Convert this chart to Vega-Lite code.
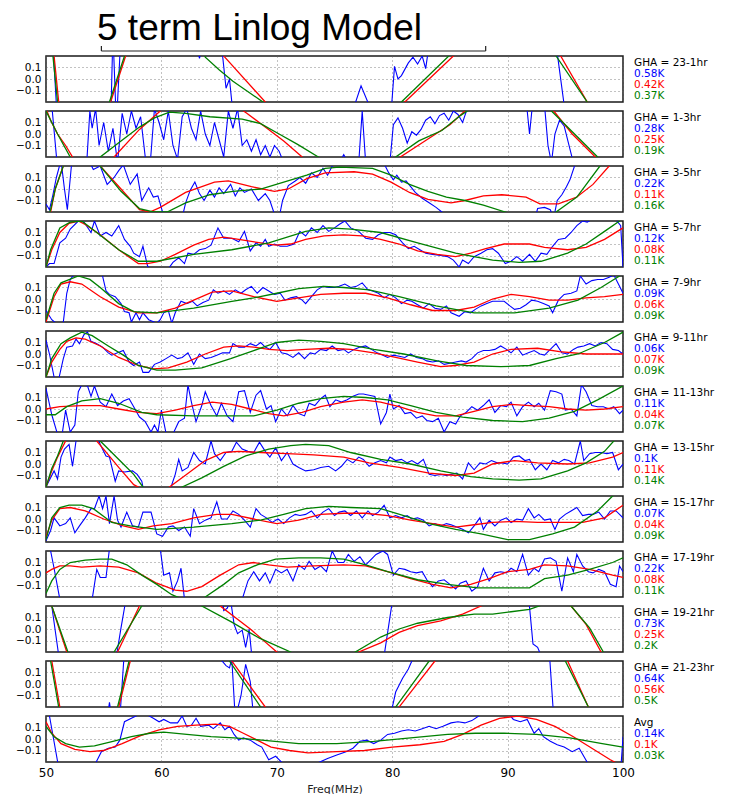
{
"$schema": "https://vega.github.io/schema/vega-lite/v6.json",
"padding": {"left": 15, "top": 9, "right": 0, "bottom": 0},
"background": "white",
"title": {"text": "5 term Linlog Model", "font": "Liberation Sans", "fontSize": 37, "fontWeight": "normal", "color": "black", "anchor": "start", "frame": "group", "dx": 51, "offset": -3},
"config": {"font": "DejaVu Sans", "view": {"stroke": "#1a1a1a", "strokeWidth": 1.5}},
"data": {"values": [
{"p":1,"x":50,"b":0.5},{"p":1,"x":50.6,"b":0.3},{"p":1,"x":51.0,"b":-0.4},{"p":1,"x":55.6,"b":-0.4},{"p":1,"x":55.8,"b":0.4},{"p":1,"x":56.1,"b":-0.4},{"p":1,"x":56.5,"b":0.4},{"p":1,"x":57,"b":0.5},{"p":1,"x":63.0,"b":0.3},{"p":1,"x":63.3,"b":0.18},{"p":1,"x":63.6,"b":0.3},{"p":1,"x":65.2,"b":0.3},{"p":1,"x":65.6,"b":-0.08},{"p":1,"x":65.9,"b":0.0},{"p":1,"x":66.2,"b":-0.3},{"p":1,"x":76.5,"b":-0.3},{"p":1,"x":77.3,"b":-0.06},{"p":1,"x":78.3,"b":-0.3},{"p":1,"x":79.9,"b":-0.3},{"p":1,"x":80.2,"b":0.11},{"p":1,"x":80.5,"b":0.0},{"p":1,"x":80.8,"b":0.03},{"p":1,"x":81.4,"b":0.14},{"p":1,"x":81.8,"b":0.19},{"p":1,"x":82.2,"b":0.13},{"p":1,"x":82.6,"b":0.2},{"p":1,"x":82.9,"b":0.09},{"p":1,"x":83.2,"b":0.3},{"p":1,"x":94.2,"b":0.3},{"p":1,"x":95.0,"b":-0.3},{"p":1,"x":100,"b":-0.3},
{"p":1,"x":50,"r":0.5},{"p":1,"x":50.7,"r":0.2},{"p":1,"x":51.1,"r":-0.2},{"p":1,"x":52,"r":-0.6},{"p":1,"x":55,"r":-0.5},{"p":1,"x":55.6,"r":-0.2},{"p":1,"x":56.9,"r":0.2},{"p":1,"x":58,"r":0.5},{"p":1,"x":61,"r":0.8},{"p":1,"x":64,"r":0.5},{"p":1,"x":65.4,"r":0.2},{"p":1,"x":69,"r":-0.2},{"p":1,"x":72,"r":-0.6},{"p":1,"x":76,"r":-0.7},{"p":1,"x":79,"r":-0.5},{"p":1,"x":81.1,"r":-0.2},{"p":1,"x":85.3,"r":0.2},{"p":1,"x":88,"r":0.45},{"p":1,"x":91,"r":0.5},{"p":1,"x":93,"r":0.4},{"p":1,"x":94.6,"r":0.2},{"p":1,"x":96.9,"r":-0.2},{"p":1,"x":98.5,"r":-0.5},{"p":1,"x":100,"r":-0.8},
{"p":1,"x":50,"g":0.4},{"p":1,"x":50.6,"g":0.2},{"p":1,"x":51.0,"g":-0.2},{"p":1,"x":52,"g":-0.5},{"p":1,"x":55,"g":-0.4},{"p":1,"x":55.5,"g":-0.2},{"p":1,"x":56.8,"g":0.2},{"p":1,"x":58,"g":0.45},{"p":1,"x":61,"g":0.6},{"p":1,"x":63,"g":0.4},{"p":1,"x":63.8,"g":0.19},{"p":1,"x":65,"g":0.08},{"p":1,"x":66.2,"g":-0.02},{"p":1,"x":68.8,"g":-0.2},{"p":1,"x":72,"g":-0.5},{"p":1,"x":76,"g":-0.6},{"p":1,"x":79,"g":-0.45},{"p":1,"x":80.8,"g":-0.2},{"p":1,"x":84.9,"g":0.2},{"p":1,"x":88,"g":0.4},{"p":1,"x":91,"g":0.45},{"p":1,"x":93,"g":0.35},{"p":1,"x":94.2,"g":0.2},{"p":1,"x":96.9,"g":-0.2},{"p":1,"x":98.5,"g":-0.45},{"p":1,"x":100,"g":-0.7},
{"p":2,"x":50,"b":0.3},{"p":2,"x":50.5,"b":0.25},{"p":2,"x":51,"b":-0.3},{"p":2,"x":53.5,"b":-0.3},{"p":2,"x":53.8,"b":0.2},{"p":2,"x":54.0,"b":0.05},{"p":2,"x":54.3,"b":0.22},{"p":2,"x":54.6,"b":-0.1},{"p":2,"x":55.0,"b":0.1},{"p":2,"x":55.4,"b":-0.15},{"p":2,"x":55.8,"b":0.05},{"p":2,"x":56.2,"b":-0.25},{"p":2,"x":56.6,"b":0.18},{"p":2,"x":57.0,"b":0.0},{"p":2,"x":57.4,"b":0.2},{"p":2,"x":57.8,"b":0.05},{"p":2,"x":58.2,"b":0.15},{"p":2,"x":58.6,"b":-0.2},{"p":2,"x":59.0,"b":-0.3},{"p":2,"x":59.4,"b":0.22},{"p":2,"x":59.8,"b":0.1},{"p":2,"x":60.2,"b":-0.05},{"p":2,"x":60.6,"b":0.2},{"p":2,"x":61.0,"b":-0.1},{"p":2,"x":61.4,"b":-0.22},{"p":2,"x":61.8,"b":0.15},{"p":2,"x":62.2,"b":0.22},{"p":2,"x":62.6,"b":0.05},{"p":2,"x":63.0,"b":-0.05},{"p":2,"x":63.4,"b":0.2},{"p":2,"x":63.8,"b":0.0},{"p":2,"x":64.2,"b":-0.1},{"p":2,"x":64.6,"b":0.1},{"p":2,"x":65.0,"b":-0.05},{"p":2,"x":65.4,"b":-0.2},{"p":2,"x":65.8,"b":0.2},{"p":2,"x":66.2,"b":0.05},{"p":2,"x":66.6,"b":0.22},{"p":2,"x":67.0,"b":-0.1},{"p":2,"x":67.4,"b":-0.05},{"p":2,"x":67.8,"b":-0.15},{"p":2,"x":68.2,"b":-0.05},{"p":2,"x":68.6,"b":-0.18},{"p":2,"x":69.0,"b":-0.1},{"p":2,"x":69.4,"b":-0.2},{"p":2,"x":69.8,"b":-0.1},{"p":2,"x":70.2,"b":-0.15},{"p":2,"x":70.6,"b":-0.25},{"p":2,"x":75.4,"b":-0.25},{"p":2,"x":75.8,"b":-0.18},{"p":2,"x":76.2,"b":-0.25},{"p":2,"x":77.1,"b":-0.25},{"p":2,"x":77.4,"b":0.2},{"p":2,"x":77.7,"b":-0.25},{"p":2,"x":79.8,"b":-0.25},{"p":2,"x":80.1,"b":0.08},{"p":2,"x":80.5,"b":0.14},{"p":2,"x":80.9,"b":0.05},{"p":2,"x":81.3,"b":-0.08},{"p":2,"x":81.7,"b":0.02},{"p":2,"x":82.1,"b":-0.01},{"p":2,"x":82.5,"b":0.04},{"p":2,"x":82.9,"b":0.12},{"p":2,"x":83.3,"b":0.15},{"p":2,"x":83.7,"b":0.09},{"p":2,"x":84.1,"b":0.16},{"p":2,"x":84.5,"b":0.18},{"p":2,"x":84.9,"b":0.12},{"p":2,"x":85.3,"b":0.2},{"p":2,"x":85.7,"b":0.17},{"p":2,"x":86.1,"b":0.1},{"p":2,"x":86.5,"b":0.22},{"p":2,"x":87,"b":0.3},{"p":2,"x":91.6,"b":0.3},{"p":2,"x":91.9,"b":0.0},{"p":2,"x":92.2,"b":0.3},{"p":2,"x":93.2,"b":0.25},{"p":2,"x":93.5,"b":-0.1},{"p":2,"x":93.8,"b":-0.25},{"p":2,"x":94.1,"b":0.0},{"p":2,"x":94.5,"b":0.12},{"p":2,"x":94.9,"b":0.07},{"p":2,"x":95.3,"b":-0.09},{"p":2,"x":95.7,"b":-0.25},{"p":2,"x":100,"b":-0.3},
{"p":2,"x":50,"r":0.22},{"p":2,"x":50.4,"r":0.12},{"p":2,"x":51.0,"r":0.0},{"p":2,"x":51.7,"r":-0.1},{"p":2,"x":52.3,"r":-0.2},{"p":2,"x":53.5,"r":-0.4},{"p":2,"x":54.5,"r":-0.35},{"p":2,"x":55.9,"r":-0.2},{"p":2,"x":58.1,"r":0.04},{"p":2,"x":59.9,"r":0.2},{"p":2,"x":62,"r":0.32},{"p":2,"x":64,"r":0.34},{"p":2,"x":66,"r":0.28},{"p":2,"x":67.4,"r":0.18},{"p":2,"x":69,"r":0.06},{"p":2,"x":70.6,"r":-0.06},{"p":2,"x":72.2,"r":-0.2},{"p":2,"x":75,"r":-0.4},{"p":2,"x":78,"r":-0.4},{"p":2,"x":80.7,"r":-0.2},{"p":2,"x":83,"r":-0.05},{"p":2,"x":85,"r":0.08},{"p":2,"x":86.3,"r":0.2},{"p":2,"x":89,"r":0.4},{"p":2,"x":91.5,"r":0.35},{"p":2,"x":94,"r":0.2},{"p":2,"x":95.6,"r":0.0},{"p":2,"x":97.6,"r":-0.2},{"p":2,"x":100,"r":-0.5},
{"p":2,"x":50,"g":0.2},{"p":2,"x":51.0,"g":0.0},{"p":2,"x":52.1,"g":-0.2},{"p":2,"x":53.5,"g":-0.35},{"p":2,"x":54.7,"g":-0.2},{"p":2,"x":56.5,"g":-0.06},{"p":2,"x":58.1,"g":0.06},{"p":2,"x":59.4,"g":0.14},{"p":2,"x":60.7,"g":0.19},{"p":2,"x":62.1,"g":0.18},{"p":2,"x":64.2,"g":0.15},{"p":2,"x":67,"g":0.13},{"p":2,"x":68.6,"g":0.09},{"p":2,"x":70.2,"g":0.0},{"p":2,"x":71.8,"g":-0.09},{"p":2,"x":73.6,"g":-0.2},{"p":2,"x":76,"g":-0.35},{"p":2,"x":78.5,"g":-0.35},{"p":2,"x":80.3,"g":-0.2},{"p":2,"x":82.3,"g":-0.06},{"p":2,"x":84.3,"g":0.03},{"p":2,"x":85.9,"g":0.16},{"p":2,"x":86.5,"g":0.2},{"p":2,"x":89,"g":0.35},{"p":2,"x":91.5,"g":0.32},{"p":2,"x":93.8,"g":0.2},{"p":2,"x":95.8,"g":0.0},{"p":2,"x":97.8,"g":-0.2},{"p":2,"x":100,"g":-0.45},
{"p":3,"x":50,"b":-0.13},{"p":3,"x":50.3,"b":-0.18},{"p":3,"x":50.6,"b":-0.05},{"p":3,"x":50.9,"b":0.1},{"p":3,"x":51.3,"b":0.25},{"p":3,"x":51.6,"b":0.0},{"p":3,"x":51.85,"b":-0.18},{"p":3,"x":52.2,"b":0.2},{"p":3,"x":52.5,"b":0.25},{"p":3,"x":53.7,"b":0.25},{"p":3,"x":54.1,"b":0.17},{"p":3,"x":54.7,"b":0.2},{"p":3,"x":55.3,"b":0.04},{"p":3,"x":55.9,"b":0.1},{"p":3,"x":56.3,"b":0.16},{"p":3,"x":56.7,"b":0.21},{"p":3,"x":57.3,"b":0.04},{"p":3,"x":57.9,"b":0.13},{"p":3,"x":58.3,"b":-0.1},{"p":3,"x":58.9,"b":0.01},{"p":3,"x":59.3,"b":-0.07},{"p":3,"x":59.7,"b":-0.06},{"p":3,"x":60.1,"b":-0.2},{"p":3,"x":60.5,"b":-0.25},{"p":3,"x":61.8,"b":-0.25},{"p":3,"x":62.1,"b":-0.12},{"p":3,"x":62.5,"b":-0.01},{"p":3,"x":62.9,"b":0.06},{"p":3,"x":63.3,"b":-0.04},{"p":3,"x":63.7,"b":-0.1},{"p":3,"x":64.2,"b":-0.01},{"p":3,"x":64.6,"b":-0.07},{"p":3,"x":65,"b":0.01},{"p":3,"x":65.4,"b":-0.04},{"p":3,"x":66,"b":0.04},{"p":3,"x":66.4,"b":-0.06},{"p":3,"x":66.8,"b":0.01},{"p":3,"x":67.2,"b":-0.03},{"p":3,"x":67.8,"b":0.0},{"p":3,"x":68.4,"b":-0.1},{"p":3,"x":69,"b":-0.04},{"p":3,"x":69.4,"b":-0.1},{"p":3,"x":69.8,"b":-0.22},{"p":3,"x":70.2,"b":-0.25},{"p":3,"x":70.5,"b":-0.1},{"p":3,"x":71,"b":0.03},{"p":3,"x":71.6,"b":0.07},{"p":3,"x":72,"b":0.1},{"p":3,"x":72.5,"b":0.05},{"p":3,"x":73,"b":0.14},{"p":3,"x":73.5,"b":0.1},{"p":3,"x":74,"b":0.18},{"p":3,"x":74.4,"b":0.12},{"p":3,"x":74.8,"b":0.2},{"p":3,"x":75.2,"b":0.22},{"p":3,"x":79.3,"b":0.22},{"p":3,"x":79.7,"b":0.14},{"p":3,"x":80.1,"b":0.08},{"p":3,"x":80.4,"b":0.12},{"p":3,"x":80.8,"b":0.06},{"p":3,"x":81.2,"b":0.07},{"p":3,"x":81.6,"b":0.02},{"p":3,"x":82.0,"b":-0.03},{"p":3,"x":82.6,"b":-0.08},{"p":3,"x":83.2,"b":-0.12},{"p":3,"x":83.8,"b":-0.16},{"p":3,"x":84.3,"b":-0.2},{"p":3,"x":84.7,"b":-0.25},{"p":3,"x":92.4,"b":-0.25},{"p":3,"x":92.6,"b":-0.17},{"p":3,"x":93.2,"b":-0.16},{"p":3,"x":93.7,"b":-0.18},{"p":3,"x":94.0,"b":-0.25},{"p":3,"x":94.3,"b":-0.1},{"p":3,"x":94.7,"b":-0.05},{"p":3,"x":95.1,"b":0.02},{"p":3,"x":95.4,"b":0.08},{"p":3,"x":95.8,"b":0.2},{"p":3,"x":96.2,"b":0.3},{"p":3,"x":100,"b":0.3},
{"p":3,"x":50,"r":-0.3},{"p":3,"x":50.4,"r":-0.2},{"p":3,"x":50.8,"r":0.0},{"p":3,"x":51.5,"r":0.2},{"p":3,"x":52.5,"r":0.4},{"p":3,"x":53.5,"r":0.35},{"p":3,"x":54.7,"r":0.2},{"p":3,"x":56.5,"r":0.0},{"p":3,"x":58.1,"r":-0.18},{"p":3,"x":59,"r":-0.2},{"p":3,"x":59.9,"r":-0.16},{"p":3,"x":62.1,"r":-0.03},{"p":3,"x":64.6,"r":0.06},{"p":3,"x":65.8,"r":0.07},{"p":3,"x":67.8,"r":0.02},{"p":3,"x":69.8,"r":-0.02},{"p":3,"x":71,"r":0.0},{"p":3,"x":72.6,"r":0.09},{"p":3,"x":74.2,"r":0.14},{"p":3,"x":76.7,"r":0.15},{"p":3,"x":78.3,"r":0.13},{"p":3,"x":79.9,"r":0.06},{"p":3,"x":81.5,"r":-0.03},{"p":3,"x":83.1,"r":-0.09},{"p":3,"x":85.1,"r":-0.12},{"p":3,"x":86.3,"r":-0.1},{"p":3,"x":87.9,"r":-0.06},{"p":3,"x":89.5,"r":-0.05},{"p":3,"x":91.6,"r":-0.07},{"p":3,"x":92.8,"r":-0.13},{"p":3,"x":94.4,"r":-0.13},{"p":3,"x":96,"r":-0.07},{"p":3,"x":97.4,"r":0.04},{"p":3,"x":98.8,"r":0.2},{"p":3,"x":100,"r":0.35},
{"p":3,"x":50,"g":-0.3},{"p":3,"x":50.4,"g":-0.18},{"p":3,"x":50.8,"g":0.0},{"p":3,"x":51.5,"g":0.2},{"p":3,"x":52.5,"g":0.4},{"p":3,"x":53.5,"g":0.35},{"p":3,"x":54.7,"g":0.2},{"p":3,"x":56.5,"g":-0.02},{"p":3,"x":58.1,"g":-0.17},{"p":3,"x":59.3,"g":-0.2},{"p":3,"x":60.5,"g":-0.2},{"p":3,"x":62.1,"g":-0.12},{"p":3,"x":64.2,"g":-0.05},{"p":3,"x":66.2,"g":-0.02},{"p":3,"x":68.6,"g":0.0},{"p":3,"x":70.6,"g":0.06},{"p":3,"x":72.6,"g":0.12},{"p":3,"x":74.2,"g":0.18},{"p":3,"x":75.4,"g":0.19},{"p":3,"x":78.3,"g":0.18},{"p":3,"x":79.9,"g":0.12},{"p":3,"x":81.5,"g":0.04},{"p":3,"x":83.1,"g":-0.02},{"p":3,"x":84.7,"g":-0.07},{"p":3,"x":86.3,"g":-0.1},{"p":3,"x":87.9,"g":-0.14},{"p":3,"x":89.8,"g":-0.2},{"p":3,"x":92,"g":-0.28},{"p":3,"x":94.2,"g":-0.2},{"p":3,"x":96,"g":-0.07},{"p":3,"x":98,"g":0.2},{"p":3,"x":100,"g":0.45},
{"p":4,"x":50,"b":-0.2},{"p":4,"x":50.3,"b":-0.17},{"p":4,"x":50.7,"b":-0.17},{"p":4,"x":51.2,"b":0.01},{"p":4,"x":51.7,"b":0.05},{"p":4,"x":52.1,"b":0.13},{"p":4,"x":52.8,"b":0.2},{"p":4,"x":53.3,"b":0.19},{"p":4,"x":53.9,"b":0.1},{"p":4,"x":54.2,"b":0.2},{"p":4,"x":54.7,"b":0.07},{"p":4,"x":55.2,"b":0.1},{"p":4,"x":55.7,"b":0.07},{"p":4,"x":56.3,"b":0.16},{"p":4,"x":56.8,"b":0.04},{"p":4,"x":57.3,"b":-0.02},{"p":4,"x":57.6,"b":-0.08},{"p":4,"x":58.1,"b":-0.11},{"p":4,"x":58.4,"b":-0.02},{"p":4,"x":58.8,"b":-0.19},{"p":4,"x":59.1,"b":-0.22},{"p":4,"x":60.5,"b":-0.23},{"p":4,"x":61,"b":-0.16},{"p":4,"x":61.5,"b":-0.12},{"p":4,"x":62,"b":-0.17},{"p":4,"x":62.3,"b":-0.08},{"p":4,"x":62.8,"b":-0.09},{"p":4,"x":63.3,"b":-0.05},{"p":4,"x":63.8,"b":-0.04},{"p":4,"x":64.3,"b":-0.01},{"p":4,"x":64.9,"b":0.14},{"p":4,"x":65.4,"b":0.05},{"p":4,"x":66.1,"b":0.05},{"p":4,"x":66.7,"b":0.02},{"p":4,"x":67.2,"b":0.11},{"p":4,"x":67.7,"b":-0.06},{"p":4,"x":68.2,"b":0.01},{"p":4,"x":68.6,"b":-0.02},{"p":4,"x":69,"b":0.04},{"p":4,"x":69.3,"b":-0.02},{"p":4,"x":69.8,"b":0.0},{"p":4,"x":70.3,"b":-0.02},{"p":4,"x":70.9,"b":-0.02},{"p":4,"x":71.5,"b":0.0},{"p":4,"x":72,"b":0.11},{"p":4,"x":72.5,"b":0.07},{"p":4,"x":73,"b":0.14},{"p":4,"x":73.5,"b":0.1},{"p":4,"x":74,"b":0.16},{"p":4,"x":74.5,"b":0.11},{"p":4,"x":75,"b":0.14},{"p":4,"x":75.4,"b":0.17},{"p":4,"x":75.9,"b":0.2},{"p":4,"x":76.4,"b":0.14},{"p":4,"x":77.1,"b":0.11},{"p":4,"x":77.7,"b":0.05},{"p":4,"x":78.3,"b":0.04},{"p":4,"x":78.8,"b":0.08},{"p":4,"x":79.3,"b":0.1},{"p":4,"x":79.8,"b":0.1},{"p":4,"x":80.3,"b":0.08},{"p":4,"x":80.9,"b":0.01},{"p":4,"x":81.4,"b":-0.04},{"p":4,"x":81.9,"b":-0.02},{"p":4,"x":82.4,"b":-0.05},{"p":4,"x":82.9,"b":-0.08},{"p":4,"x":83.5,"b":-0.09},{"p":4,"x":84.2,"b":-0.1},{"p":4,"x":84.8,"b":-0.11},{"p":4,"x":85.3,"b":-0.14},{"p":4,"x":85.8,"b":-0.2},{"p":4,"x":86.1,"b":-0.14},{"p":4,"x":86.6,"b":-0.17},{"p":4,"x":87.1,"b":-0.11},{"p":4,"x":87.7,"b":-0.08},{"p":4,"x":88.2,"b":-0.05},{"p":4,"x":88.7,"b":-0.04},{"p":4,"x":89.2,"b":-0.08},{"p":4,"x":89.8,"b":-0.17},{"p":4,"x":90.3,"b":-0.15},{"p":4,"x":90.8,"b":-0.11},{"p":4,"x":91.3,"b":-0.15},{"p":4,"x":91.9,"b":-0.09},{"p":4,"x":92.4,"b":-0.15},{"p":4,"x":92.9,"b":-0.08},{"p":4,"x":93.4,"b":-0.09},{"p":4,"x":93.9,"b":-0.02},{"p":4,"x":94.4,"b":0.04},{"p":4,"x":95,"b":0.05},{"p":4,"x":95.5,"b":0.1},{"p":4,"x":96,"b":0.16},{"p":4,"x":96.5,"b":0.2},{"p":4,"x":96.9,"b":0.19},{"p":4,"x":97.4,"b":0.22},{"p":4,"x":98,"b":0.22},{"p":4,"x":98.7,"b":0.21},{"p":4,"x":99.4,"b":0.21},{"p":4,"x":99.8,"b":0.16},{"p":4,"x":100,"b":-0.2},
{"p":4,"x":50,"r":-0.2},{"p":4,"x":50.5,"r":-0.05},{"p":4,"x":51.2,"r":0.1},{"p":4,"x":52,"r":0.18},{"p":4,"x":52.8,"r":0.2},{"p":4,"x":53.4,"r":0.17},{"p":4,"x":54.7,"r":0.08},{"p":4,"x":56.3,"r":-0.05},{"p":4,"x":58,"r":-0.17},{"p":4,"x":58.8,"r":-0.17},{"p":4,"x":59.9,"r":-0.15},{"p":4,"x":61.2,"r":-0.09},{"p":4,"x":62.8,"r":-0.01},{"p":4,"x":64.1,"r":0.04},{"p":4,"x":65.4,"r":0.06},{"p":4,"x":66.7,"r":0.04},{"p":4,"x":68.6,"r":0.01},{"p":4,"x":69.9,"r":-0.01},{"p":4,"x":71.2,"r":0.0},{"p":4,"x":72.5,"r":0.04},{"p":4,"x":74.1,"r":0.07},{"p":4,"x":75.8,"r":0.08},{"p":4,"x":77.4,"r":0.07},{"p":4,"x":79,"r":0.04},{"p":4,"x":80.6,"r":0.0},{"p":4,"x":82.2,"r":-0.06},{"p":4,"x":83.9,"r":-0.09},{"p":4,"x":85.5,"r":-0.11},{"p":4,"x":86.8,"r":-0.08},{"p":4,"x":88.1,"r":-0.04},{"p":4,"x":89.7,"r":0.0},{"p":4,"x":91.9,"r":0.0},{"p":4,"x":93.2,"r":-0.03},{"p":4,"x":95.2,"r":-0.05},{"p":4,"x":96.8,"r":-0.03},{"p":4,"x":98.4,"r":0.04},{"p":4,"x":100,"r":0.14},
{"p":4,"x":50,"g":-0.2},{"p":4,"x":50.4,"g":-0.05},{"p":4,"x":51.2,"g":0.14},{"p":4,"x":52.1,"g":0.19},{"p":4,"x":53.1,"g":0.2},{"p":4,"x":54.4,"g":0.1},{"p":4,"x":56.3,"g":-0.05},{"p":4,"x":58,"g":-0.15},{"p":4,"x":59.6,"g":-0.15},{"p":4,"x":62.8,"g":-0.09},{"p":4,"x":66.1,"g":-0.05},{"p":4,"x":69.3,"g":0.01},{"p":4,"x":72.5,"g":0.11},{"p":4,"x":74.5,"g":0.14},{"p":4,"x":76.4,"g":0.13},{"p":4,"x":79,"g":0.1},{"p":4,"x":82.2,"g":0.01},{"p":4,"x":85.5,"g":-0.08},{"p":4,"x":88.7,"g":-0.14},{"p":4,"x":91,"g":-0.16},{"p":4,"x":92.9,"g":-0.15},{"p":4,"x":95.2,"g":-0.08},{"p":4,"x":96.8,"g":0.0},{"p":4,"x":98.4,"g":0.11},{"p":4,"x":99.7,"g":0.2},{"p":4,"x":100,"g":0.22},
{"p":5,"x":50,"b":-0.1},{"p":5,"x":50.5,"b":-0.18},{"p":5,"x":51,"b":-0.22},{"p":5,"x":51.5,"b":-0.2},{"p":5,"x":51.8,"b":0.05},{"p":5,"x":52.1,"b":0.17},{"p":5,"x":52.5,"b":0.22},{"p":5,"x":54.7,"b":0.22},{"p":5,"x":54.9,"b":0.2},{"p":5,"x":55.2,"b":0.07},{"p":5,"x":55.5,"b":0.04},{"p":5,"x":56,"b":0.02},{"p":5,"x":56.5,"b":-0.04},{"p":5,"x":56.8,"b":-0.11},{"p":5,"x":57.2,"b":-0.12},{"p":5,"x":57.4,"b":-0.2},{"p":5,"x":57.8,"b":-0.12},{"p":5,"x":58.1,"b":-0.18},{"p":5,"x":58.4,"b":-0.12},{"p":5,"x":58.9,"b":-0.18},{"p":5,"x":59.6,"b":-0.21},{"p":5,"x":59.9,"b":-0.18},{"p":5,"x":60.2,"b":-0.12},{"p":5,"x":60.6,"b":-0.1},{"p":5,"x":60.9,"b":-0.21},{"p":5,"x":61.2,"b":-0.12},{"p":5,"x":61.7,"b":-0.02},{"p":5,"x":62.2,"b":-0.04},{"p":5,"x":62.7,"b":-0.02},{"p":5,"x":63.1,"b":-0.06},{"p":5,"x":63.6,"b":-0.03},{"p":5,"x":64.1,"b":-0.01},{"p":5,"x":64.5,"b":0.08},{"p":5,"x":64.9,"b":0.05},{"p":5,"x":65.4,"b":0.07},{"p":5,"x":65.9,"b":0.04},{"p":5,"x":66.4,"b":0.08},{"p":5,"x":66.9,"b":0.05},{"p":5,"x":67.3,"b":0.08},{"p":5,"x":67.8,"b":0.11},{"p":5,"x":68.3,"b":0.05},{"p":5,"x":68.8,"b":0.1},{"p":5,"x":69.3,"b":0.07},{"p":5,"x":69.8,"b":0.04},{"p":5,"x":70.3,"b":0.05},{"p":5,"x":70.7,"b":-0.01},{"p":5,"x":71.2,"b":0.01},{"p":5,"x":71.7,"b":0.02},{"p":5,"x":72.2,"b":-0.01},{"p":5,"x":72.5,"b":-0.04},{"p":5,"x":73,"b":0.02},{"p":5,"x":73.5,"b":0.08},{"p":5,"x":74,"b":0.11},{"p":5,"x":74.5,"b":0.1},{"p":5,"x":75,"b":0.1},{"p":5,"x":75.4,"b":0.11},{"p":5,"x":75.9,"b":0.13},{"p":5,"x":76.4,"b":0.1},{"p":5,"x":76.9,"b":0.11},{"p":5,"x":77.4,"b":0.14},{"p":5,"x":77.9,"b":0.08},{"p":5,"x":78.3,"b":0.07},{"p":5,"x":78.8,"b":0.05},{"p":5,"x":79.3,"b":0.01},{"p":5,"x":79.8,"b":0.04},{"p":5,"x":80.3,"b":0.01},{"p":5,"x":80.8,"b":-0.04},{"p":5,"x":81.3,"b":-0.01},{"p":5,"x":81.7,"b":-0.02},{"p":5,"x":82.2,"b":-0.05},{"p":5,"x":82.7,"b":-0.08},{"p":5,"x":83.2,"b":-0.04},{"p":5,"x":83.7,"b":-0.08},{"p":5,"x":84.2,"b":-0.09},{"p":5,"x":84.7,"b":-0.06},{"p":5,"x":85.1,"b":-0.12},{"p":5,"x":85.8,"b":-0.15},{"p":5,"x":86.3,"b":-0.11},{"p":5,"x":86.8,"b":-0.12},{"p":5,"x":87.2,"b":-0.09},{"p":5,"x":87.7,"b":-0.06},{"p":5,"x":88.2,"b":-0.04},{"p":5,"x":88.7,"b":-0.02},{"p":5,"x":89.2,"b":-0.02},{"p":5,"x":89.7,"b":-0.02},{"p":5,"x":90.2,"b":-0.06},{"p":5,"x":90.6,"b":-0.09},{"p":5,"x":91.1,"b":-0.08},{"p":5,"x":91.6,"b":-0.05},{"p":5,"x":92.1,"b":-0.01},{"p":5,"x":92.6,"b":-0.02},{"p":5,"x":93.1,"b":-0.04},{"p":5,"x":93.6,"b":-0.06},{"p":5,"x":93.9,"b":-0.12},{"p":5,"x":94.4,"b":-0.01},{"p":5,"x":94.9,"b":0.04},{"p":5,"x":95.5,"b":0.05},{"p":5,"x":96,"b":0.07},{"p":5,"x":96.3,"b":0.2},{"p":5,"x":96.8,"b":0.13},{"p":5,"x":97.3,"b":0.16},{"p":5,"x":97.8,"b":0.17},{"p":5,"x":98.3,"b":0.17},{"p":5,"x":98.8,"b":0.19},{"p":5,"x":99.2,"b":0.21},{"p":5,"x":99.7,"b":0.11},{"p":5,"x":100,"b":0.05},
{"p":5,"x":50,"r":-0.2},{"p":5,"x":50.7,"r":0.02},{"p":5,"x":51.3,"r":0.13},{"p":5,"x":52.1,"r":0.15},{"p":5,"x":53.1,"r":0.13},{"p":5,"x":54.7,"r":0.02},{"p":5,"x":56.3,"r":-0.07},{"p":5,"x":58,"r":-0.12},{"p":5,"x":59.6,"r":-0.12},{"p":5,"x":61.2,"r":-0.08},{"p":5,"x":62.8,"r":-0.01},{"p":5,"x":64.4,"r":0.06},{"p":5,"x":66.1,"r":0.07},{"p":5,"x":68,"r":0.02},{"p":5,"x":70,"r":-0.02},{"p":5,"x":71.9,"r":0.01},{"p":5,"x":73.8,"r":0.04},{"p":5,"x":75.8,"r":0.05},{"p":5,"x":77.7,"r":0.05},{"p":5,"x":79.6,"r":0.01},{"p":5,"x":81.6,"r":-0.05},{"p":5,"x":83.5,"r":-0.1},{"p":5,"x":85.5,"r":-0.1},{"p":5,"x":87.1,"r":-0.07},{"p":5,"x":88.7,"r":0.0},{"p":5,"x":90.3,"r":0.04},{"p":5,"x":91.9,"r":0.02},{"p":5,"x":93.6,"r":-0.01},{"p":5,"x":95.2,"r":-0.01},{"p":5,"x":96.8,"r":0.01},{"p":5,"x":98.4,"r":0.02},{"p":5,"x":100,"r":0.04},
{"p":5,"x":50,"g":-0.18},{"p":5,"x":50.7,"g":0.05},{"p":5,"x":51.3,"g":0.14},{"p":5,"x":52.8,"g":0.2},{"p":5,"x":53.8,"g":0.17},{"p":5,"x":54.7,"g":0.1},{"p":5,"x":56.3,"g":-0.04},{"p":5,"x":57.6,"g":-0.11},{"p":5,"x":59.6,"g":-0.12},{"p":5,"x":62.8,"g":-0.08},{"p":5,"x":66.1,"g":-0.02},{"p":5,"x":68,"g":0.01},{"p":5,"x":70,"g":0.05},{"p":5,"x":71.9,"g":0.09},{"p":5,"x":74.1,"g":0.11},{"p":5,"x":75.8,"g":0.1},{"p":5,"x":78,"g":0.08},{"p":5,"x":80.6,"g":0.02},{"p":5,"x":83.8,"g":-0.06},{"p":5,"x":87.1,"g":-0.12},{"p":5,"x":90.6,"g":-0.12},{"p":5,"x":93.6,"g":-0.08},{"p":5,"x":96.1,"g":-0.01},{"p":5,"x":98.1,"g":0.1},{"p":5,"x":99.7,"g":0.2},{"p":5,"x":100,"g":0.22},
{"p":6,"x":50,"b":0.12},{"p":6,"x":50.3,"b":0.0},{"p":6,"x":50.7,"b":-0.2},{"p":6,"x":51.1,"b":-0.22},{"p":6,"x":51.5,"b":-0.04},{"p":6,"x":51.8,"b":0.06},{"p":6,"x":52.3,"b":0.07},{"p":6,"x":52.6,"b":0.13},{"p":6,"x":52.9,"b":0.09},{"p":6,"x":53.3,"b":0.17},{"p":6,"x":53.6,"b":0.19},{"p":6,"x":53.9,"b":0.11},{"p":6,"x":54.4,"b":0.09},{"p":6,"x":54.9,"b":0.06},{"p":6,"x":55.4,"b":0.01},{"p":6,"x":55.7,"b":-0.01},{"p":6,"x":56.2,"b":0.01},{"p":6,"x":56.7,"b":0.03},{"p":6,"x":57.2,"b":-0.07},{"p":6,"x":57.6,"b":-0.1},{"p":6,"x":58.1,"b":-0.07},{"p":6,"x":58.4,"b":-0.16},{"p":6,"x":58.9,"b":-0.16},{"p":6,"x":59.4,"b":-0.09},{"p":6,"x":59.9,"b":-0.07},{"p":6,"x":60.4,"b":-0.04},{"p":6,"x":60.9,"b":-0.01},{"p":6,"x":61.4,"b":-0.04},{"p":6,"x":61.8,"b":-0.03},{"p":6,"x":62.3,"b":0.01},{"p":6,"x":62.8,"b":-0.09},{"p":6,"x":63.3,"b":0.0},{"p":6,"x":63.8,"b":-0.04},{"p":6,"x":64.3,"b":-0.03},{"p":6,"x":64.8,"b":-0.01},{"p":6,"x":65.3,"b":0.01},{"p":6,"x":65.9,"b":0.01},{"p":6,"x":66.2,"b":0.09},{"p":6,"x":66.7,"b":0.06},{"p":6,"x":67.2,"b":0.06},{"p":6,"x":67.7,"b":0.09},{"p":6,"x":68.2,"b":0.07},{"p":6,"x":68.6,"b":0.1},{"p":6,"x":69,"b":0.06},{"p":6,"x":69.4,"b":0.04},{"p":6,"x":69.9,"b":0.1},{"p":6,"x":70.4,"b":0.01},{"p":6,"x":70.9,"b":0.0},{"p":6,"x":71.4,"b":-0.03},{"p":6,"x":71.9,"b":0.01},{"p":6,"x":72.4,"b":-0.04},{"p":6,"x":72.9,"b":0.01},{"p":6,"x":73.3,"b":0.0},{"p":6,"x":73.8,"b":0.04},{"p":6,"x":74.3,"b":0.03},{"p":6,"x":74.8,"b":0.07},{"p":6,"x":75.3,"b":0.03},{"p":6,"x":75.8,"b":0.04},{"p":6,"x":76.2,"b":0.01},{"p":6,"x":76.7,"b":0.04},{"p":6,"x":77.2,"b":0.06},{"p":6,"x":77.7,"b":0.07},{"p":6,"x":78.2,"b":0.04},{"p":6,"x":78.7,"b":0.01},{"p":6,"x":79.2,"b":-0.01},{"p":6,"x":79.6,"b":-0.03},{"p":6,"x":80.1,"b":-0.01},{"p":6,"x":80.6,"b":-0.02},{"p":6,"x":81.1,"b":-0.03},{"p":6,"x":81.6,"b":0.0},{"p":6,"x":82.1,"b":-0.03},{"p":6,"x":82.6,"b":-0.04},{"p":6,"x":83,"b":-0.06},{"p":6,"x":83.5,"b":-0.07},{"p":6,"x":84,"b":-0.06},{"p":6,"x":84.5,"b":-0.09},{"p":6,"x":85,"b":-0.08},{"p":6,"x":85.5,"b":-0.07},{"p":6,"x":86,"b":-0.06},{"p":6,"x":86.4,"b":-0.07},{"p":6,"x":86.9,"b":-0.04},{"p":6,"x":87.4,"b":0.01},{"p":6,"x":87.9,"b":0.03},{"p":6,"x":88.4,"b":0.03},{"p":6,"x":88.9,"b":0.04},{"p":6,"x":89.4,"b":0.07},{"p":6,"x":89.9,"b":0.04},{"p":6,"x":90.3,"b":0.01},{"p":6,"x":90.8,"b":0.06},{"p":6,"x":91.3,"b":-0.01},{"p":6,"x":91.8,"b":0.01},{"p":6,"x":92.3,"b":0.03},{"p":6,"x":92.8,"b":0.0},{"p":6,"x":93.2,"b":-0.01},{"p":6,"x":93.7,"b":0.04},{"p":6,"x":94.2,"b":0.09},{"p":6,"x":94.7,"b":0.01},{"p":6,"x":95.2,"b":0.0},{"p":6,"x":95.7,"b":0.04},{"p":6,"x":96.1,"b":0.06},{"p":6,"x":96.6,"b":0.07},{"p":6,"x":97.1,"b":0.09},{"p":6,"x":97.6,"b":0.07},{"p":6,"x":98.1,"b":0.1},{"p":6,"x":98.6,"b":0.09},{"p":6,"x":99.1,"b":0.04},{"p":6,"x":99.6,"b":0.03},{"p":6,"x":100,"b":0.0},
{"p":6,"x":50,"r":-0.2},{"p":6,"x":50.5,"r":-0.07},{"p":6,"x":51.2,"r":0.04},{"p":6,"x":51.8,"r":0.11},{"p":6,"x":52.6,"r":0.14},{"p":6,"x":53.4,"r":0.13},{"p":6,"x":54.7,"r":0.07},{"p":6,"x":56.3,"r":-0.03},{"p":6,"x":58,"r":-0.1},{"p":6,"x":59.3,"r":-0.13},{"p":6,"x":60.6,"r":-0.12},{"p":6,"x":62.2,"r":-0.07},{"p":6,"x":63.8,"r":0.0},{"p":6,"x":65.4,"r":0.06},{"p":6,"x":66.7,"r":0.07},{"p":6,"x":68,"r":0.06},{"p":6,"x":69.3,"r":0.04},{"p":6,"x":70.9,"r":0.03},{"p":6,"x":72.5,"r":0.04},{"p":6,"x":74.5,"r":0.05},{"p":6,"x":76.4,"r":0.04},{"p":6,"x":78.4,"r":0.01},{"p":6,"x":80.3,"r":-0.03},{"p":6,"x":82.2,"r":-0.07},{"p":6,"x":84.2,"r":-0.11},{"p":6,"x":85.5,"r":-0.1},{"p":6,"x":87.1,"r":-0.07},{"p":6,"x":88.7,"r":0.0},{"p":6,"x":90.3,"r":0.04},{"p":6,"x":92.6,"r":0.05},{"p":6,"x":94.5,"r":0.02},{"p":6,"x":96.8,"r":0.0},{"p":6,"x":100,"r":0.0},
{"p":6,"x":50,"g":-0.2},{"p":6,"x":50.5,"g":-0.04},{"p":6,"x":51.3,"g":0.09},{"p":6,"x":52.1,"g":0.14},{"p":6,"x":53.1,"g":0.19},{"p":6,"x":54,"g":0.16},{"p":6,"x":55.4,"g":0.07},{"p":6,"x":56.7,"g":-0.01},{"p":6,"x":58,"g":-0.1},{"p":6,"x":59.6,"g":-0.14},{"p":6,"x":61.2,"g":-0.14},{"p":6,"x":63.5,"g":-0.12},{"p":6,"x":66,"g":-0.04},{"p":6,"x":68,"g":0.03},{"p":6,"x":70,"g":0.1},{"p":6,"x":71.9,"g":0.12},{"p":6,"x":73.8,"g":0.11},{"p":6,"x":75.8,"g":0.09},{"p":6,"x":78.4,"g":0.04},{"p":6,"x":81,"g":0.0},{"p":6,"x":83.9,"g":-0.06},{"p":6,"x":86.4,"g":-0.1},{"p":6,"x":89.4,"g":-0.11},{"p":6,"x":91.9,"g":-0.1},{"p":6,"x":94.2,"g":-0.04},{"p":6,"x":96.1,"g":0.0},{"p":6,"x":98.4,"g":0.1},{"p":6,"x":100,"g":0.19},
{"p":7,"x":50,"b":0.18},{"p":7,"x":50.5,"b":-0.05},{"p":7,"x":51,"b":-0.22},{"p":7,"x":51.4,"b":-0.22},{"p":7,"x":51.7,"b":-0.01},{"p":7,"x":52.1,"b":-0.2},{"p":7,"x":52.5,"b":-0.14},{"p":7,"x":52.8,"b":0.15},{"p":7,"x":53.1,"b":0.21},{"p":7,"x":53.6,"b":0.2},{"p":7,"x":53.9,"b":0.11},{"p":7,"x":54.2,"b":0.2},{"p":7,"x":54.7,"b":0.06},{"p":7,"x":55.2,"b":0.02},{"p":7,"x":55.7,"b":0.13},{"p":7,"x":56.2,"b":0.03},{"p":7,"x":56.7,"b":0.07},{"p":7,"x":57.2,"b":0.09},{"p":7,"x":57.6,"b":0.02},{"p":7,"x":58.1,"b":-0.07},{"p":7,"x":58.6,"b":-0.11},{"p":7,"x":59.1,"b":-0.2},{"p":7,"x":59.4,"b":-0.14},{"p":7,"x":59.7,"b":-0.2},{"p":7,"x":60,"b":-0.01},{"p":7,"x":60.4,"b":-0.21},{"p":7,"x":60.9,"b":-0.24},{"p":7,"x":61.5,"b":-0.11},{"p":7,"x":62,"b":-0.08},{"p":7,"x":62.3,"b":0.21},{"p":7,"x":62.6,"b":0.06},{"p":7,"x":63,"b":-0.11},{"p":7,"x":63.5,"b":0.03},{"p":7,"x":63.8,"b":0.15},{"p":7,"x":64.3,"b":0.03},{"p":7,"x":64.8,"b":-0.06},{"p":7,"x":65.2,"b":0.05},{"p":7,"x":65.7,"b":-0.06},{"p":7,"x":66.2,"b":-0.11},{"p":7,"x":66.7,"b":0.15},{"p":7,"x":67.2,"b":0.16},{"p":7,"x":67.7,"b":-0.03},{"p":7,"x":68.2,"b":0.12},{"p":7,"x":68.6,"b":0.16},{"p":7,"x":69.1,"b":0.0},{"p":7,"x":69.5,"b":0.03},{"p":7,"x":69.9,"b":-0.11},{"p":7,"x":70.4,"b":0.0},{"p":7,"x":70.9,"b":-0.06},{"p":7,"x":71.4,"b":0.03},{"p":7,"x":71.9,"b":-0.04},{"p":7,"x":72.4,"b":-0.06},{"p":7,"x":72.8,"b":0.05},{"p":7,"x":73.3,"b":0.03},{"p":7,"x":73.8,"b":0.09},{"p":7,"x":74.2,"b":0.12},{"p":7,"x":74.6,"b":0.02},{"p":7,"x":75.1,"b":0.08},{"p":7,"x":75.6,"b":0.06},{"p":7,"x":76.1,"b":0.08},{"p":7,"x":76.6,"b":0.11},{"p":7,"x":77.1,"b":0.13},{"p":7,"x":77.5,"b":0.13},{"p":7,"x":78,"b":0.12},{"p":7,"x":78.5,"b":0.11},{"p":7,"x":79,"b":-0.13},{"p":7,"x":79.5,"b":-0.03},{"p":7,"x":79.8,"b":0.13},{"p":7,"x":80.1,"b":0.0},{"p":7,"x":80.6,"b":0.03},{"p":7,"x":81.1,"b":-0.04},{"p":7,"x":81.6,"b":-0.03},{"p":7,"x":82.1,"b":-0.08},{"p":7,"x":82.6,"b":-0.06},{"p":7,"x":83,"b":-0.1},{"p":7,"x":83.5,"b":-0.11},{"p":7,"x":84,"b":-0.08},{"p":7,"x":84.5,"b":-0.2},{"p":7,"x":85,"b":-0.11},{"p":7,"x":85.5,"b":-0.13},{"p":7,"x":85.9,"b":-0.06},{"p":7,"x":86.4,"b":-0.03},{"p":7,"x":86.9,"b":0.02},{"p":7,"x":87.4,"b":-0.01},{"p":7,"x":87.9,"b":0.03},{"p":7,"x":88.4,"b":0.08},{"p":7,"x":88.9,"b":-0.03},{"p":7,"x":89.4,"b":0.03},{"p":7,"x":89.9,"b":0.02},{"p":7,"x":90.3,"b":0.06},{"p":7,"x":90.8,"b":-0.06},{"p":7,"x":91.3,"b":0.02},{"p":7,"x":91.8,"b":0.06},{"p":7,"x":92.3,"b":0.02},{"p":7,"x":92.7,"b":0.05},{"p":7,"x":93.2,"b":-0.01},{"p":7,"x":93.7,"b":0.16},{"p":7,"x":94.2,"b":0.15},{"p":7,"x":94.7,"b":0.13},{"p":7,"x":95,"b":-0.01},{"p":7,"x":95.5,"b":0.0},{"p":7,"x":96,"b":-0.06},{"p":7,"x":96.4,"b":0.21},{"p":7,"x":96.8,"b":0.15},{"p":7,"x":97.3,"b":0.03},{"p":7,"x":97.8,"b":0.02},{"p":7,"x":98.3,"b":0.02},{"p":7,"x":98.8,"b":0.0},{"p":7,"x":99.2,"b":0.02},{"p":7,"x":99.7,"b":-0.04},{"p":7,"x":100,"b":-0.01},
{"p":7,"x":50,"r":0.0},{"p":7,"x":51.2,"r":0.02},{"p":7,"x":53.1,"r":0.03},{"p":7,"x":54.7,"r":0.03},{"p":7,"x":56.3,"r":0.0},{"p":7,"x":58,"r":-0.03},{"p":7,"x":59.6,"r":-0.04},{"p":7,"x":61.2,"r":-0.01},{"p":7,"x":62.8,"r":0.03},{"p":7,"x":64.4,"r":0.06},{"p":7,"x":66.1,"r":0.04},{"p":7,"x":67.7,"r":0.0},{"p":7,"x":69.3,"r":-0.04},{"p":7,"x":70.6,"r":-0.06},{"p":7,"x":72.2,"r":-0.03},{"p":7,"x":73.8,"r":0.02},{"p":7,"x":75.8,"r":0.06},{"p":7,"x":77.4,"r":0.08},{"p":7,"x":79,"r":0.06},{"p":7,"x":80.6,"r":0.02},{"p":7,"x":82.2,"r":-0.03},{"p":7,"x":83.8,"r":-0.06},{"p":7,"x":85.5,"r":-0.06},{"p":7,"x":87.1,"r":-0.02},{"p":7,"x":88.7,"r":0.02},{"p":7,"x":90.3,"r":0.04},{"p":7,"x":91.9,"r":0.03},{"p":7,"x":93.6,"r":0.02},{"p":7,"x":95.2,"r":0.0},{"p":7,"x":96.8,"r":-0.01},{"p":7,"x":98.4,"r":0.0},{"p":7,"x":100,"r":0.02},
{"p":7,"x":50,"g":-0.05},{"p":7,"x":50.8,"g":-0.05},{"p":7,"x":51.8,"g":0.02},{"p":7,"x":53.1,"g":0.07},{"p":7,"x":54.7,"g":0.09},{"p":7,"x":56.3,"g":0.05},{"p":7,"x":58.3,"g":-0.03},{"p":7,"x":59.6,"g":-0.05},{"p":7,"x":62.8,"g":-0.06},{"p":7,"x":66.1,"g":-0.06},{"p":7,"x":68,"g":-0.06},{"p":7,"x":70,"g":-0.01},{"p":7,"x":71.9,"g":0.05},{"p":7,"x":73.8,"g":0.09},{"p":7,"x":75.8,"g":0.11},{"p":7,"x":77.7,"g":0.1},{"p":7,"x":79.6,"g":0.08},{"p":7,"x":81.6,"g":0.03},{"p":7,"x":83.8,"g":-0.03},{"p":7,"x":86.1,"g":-0.07},{"p":7,"x":88.7,"g":-0.1},{"p":7,"x":91.3,"g":-0.11},{"p":7,"x":93.6,"g":-0.08},{"p":7,"x":95.8,"g":-0.02},{"p":7,"x":97.8,"g":0.08},{"p":7,"x":100,"g":0.2},
{"p":8,"x":50,"b":-0.2},{"p":8,"x":50.4,"b":-0.12},{"p":8,"x":50.7,"b":-0.06},{"p":8,"x":51,"b":-0.13},{"p":8,"x":51.3,"b":0.06},{"p":8,"x":51.6,"b":0.13},{"p":8,"x":52,"b":0.17},{"p":8,"x":52.3,"b":-0.02},{"p":8,"x":52.6,"b":0.2},{"p":8,"x":52.9,"b":0.25},{"p":8,"x":54.4,"b":0.25},{"p":8,"x":54.7,"b":0.17},{"p":8,"x":55.2,"b":0.07},{"p":8,"x":55.5,"b":0.06},{"p":8,"x":56,"b":-0.15},{"p":8,"x":56.3,"b":-0.06},{"p":8,"x":56.8,"b":-0.07},{"p":8,"x":57.5,"b":-0.06},{"p":8,"x":57.9,"b":-0.09},{"p":8,"x":58.3,"b":-0.15},{"p":8,"x":58.5,"b":-0.25},{"p":8,"x":60.6,"b":-0.25},{"p":8,"x":60.9,"b":-0.18},{"p":8,"x":61.2,"b":-0.09},{"p":8,"x":61.5,"b":0.04},{"p":8,"x":61.8,"b":-0.06},{"p":8,"x":62.3,"b":-0.03},{"p":8,"x":62.8,"b":0.1},{"p":8,"x":63.3,"b":0.03},{"p":8,"x":63.8,"b":0.0},{"p":8,"x":64.3,"b":0.2},{"p":8,"x":64.6,"b":0.09},{"p":8,"x":65.1,"b":0.03},{"p":8,"x":65.6,"b":0.1},{"p":8,"x":66.1,"b":0.11},{"p":8,"x":66.5,"b":0.19},{"p":8,"x":67,"b":0.13},{"p":8,"x":67.5,"b":0.11},{"p":8,"x":68,"b":0.1},{"p":8,"x":68.5,"b":0.19},{"p":8,"x":69,"b":0.11},{"p":8,"x":69.4,"b":0.06},{"p":8,"x":69.9,"b":0.14},{"p":8,"x":70.4,"b":0.03},{"p":8,"x":70.9,"b":0.1},{"p":8,"x":71.4,"b":0.0},{"p":8,"x":71.9,"b":-0.03},{"p":8,"x":72.5,"b":-0.06},{"p":8,"x":73.2,"b":-0.05},{"p":8,"x":73.8,"b":-0.03},{"p":8,"x":74.5,"b":-0.02},{"p":8,"x":75.1,"b":-0.06},{"p":8,"x":75.6,"b":-0.02},{"p":8,"x":76.1,"b":0.04},{"p":8,"x":76.6,"b":0.01},{"p":8,"x":77.1,"b":0.06},{"p":8,"x":77.5,"b":0.04},{"p":8,"x":78,"b":-0.02},{"p":8,"x":78.5,"b":0.01},{"p":8,"x":79,"b":0.03},{"p":8,"x":79.5,"b":0.01},{"p":8,"x":79.8,"b":0.06},{"p":8,"x":80.3,"b":0.03},{"p":8,"x":80.8,"b":0.04},{"p":8,"x":81.3,"b":0.01},{"p":8,"x":81.7,"b":0.03},{"p":8,"x":82.2,"b":0.0},{"p":8,"x":82.7,"b":0.04},{"p":8,"x":83.2,"b":-0.09},{"p":8,"x":83.7,"b":-0.1},{"p":8,"x":84.2,"b":-0.09},{"p":8,"x":84.7,"b":-0.1},{"p":8,"x":85.1,"b":-0.09},{"p":8,"x":85.6,"b":-0.08},{"p":8,"x":86.1,"b":-0.13},{"p":8,"x":86.6,"b":0.01},{"p":8,"x":87.1,"b":-0.05},{"p":8,"x":87.6,"b":0.01},{"p":8,"x":88.1,"b":0.0},{"p":8,"x":88.6,"b":0.03},{"p":8,"x":89.1,"b":0.01},{"p":8,"x":89.5,"b":0.01},{"p":8,"x":90,"b":0.0},{"p":8,"x":90.5,"b":0.06},{"p":8,"x":91,"b":0.07},{"p":8,"x":91.5,"b":0.03},{"p":8,"x":91.9,"b":0.04},{"p":8,"x":92.4,"b":-0.05},{"p":8,"x":92.9,"b":0.0},{"p":8,"x":93.4,"b":-0.05},{"p":8,"x":93.9,"b":0.03},{"p":8,"x":94.4,"b":0.01},{"p":8,"x":94.9,"b":0.04},{"p":8,"x":95.3,"b":0.03},{"p":8,"x":95.8,"b":0.0},{"p":8,"x":96.3,"b":0.2},{"p":8,"x":96.6,"b":0.03},{"p":8,"x":97.1,"b":0.09},{"p":8,"x":97.6,"b":0.1},{"p":8,"x":98.1,"b":0.1},{"p":8,"x":98.6,"b":0.09},{"p":8,"x":99.1,"b":0.1},{"p":8,"x":99.6,"b":-0.05},{"p":8,"x":100,"b":0.0},
{"p":8,"x":50,"r":-0.2},{"p":8,"x":50.5,"r":-0.06},{"p":8,"x":51,"r":0.06},{"p":8,"x":51.7,"r":0.2},{"p":8,"x":52.5,"r":0.35},{"p":8,"x":53.5,"r":0.32},{"p":8,"x":54.4,"r":0.2},{"p":8,"x":55.4,"r":0.08},{"p":8,"x":56.3,"r":-0.03},{"p":8,"x":57.6,"r":-0.18},{"p":8,"x":58,"r":-0.2},{"p":8,"x":59,"r":-0.28},{"p":8,"x":60,"r":-0.26},{"p":8,"x":60.7,"r":-0.2},{"p":8,"x":62.2,"r":-0.09},{"p":8,"x":63.8,"r":0.03},{"p":8,"x":65.4,"r":0.1},{"p":8,"x":66.7,"r":0.11},{"p":8,"x":68.6,"r":0.1},{"p":8,"x":70.9,"r":0.09},{"p":8,"x":73.2,"r":0.08},{"p":8,"x":75.8,"r":0.06},{"p":8,"x":78,"r":0.01},{"p":8,"x":80.6,"r":-0.03},{"p":8,"x":83.2,"r":-0.08},{"p":8,"x":85.5,"r":-0.1},{"p":8,"x":87.1,"r":-0.08},{"p":8,"x":88.7,"r":0.0},{"p":8,"x":90.6,"r":0.03},{"p":8,"x":92.6,"r":0.01},{"p":8,"x":95.2,"r":0.0},{"p":8,"x":97.1,"r":0.01},{"p":8,"x":99.1,"r":0.06},{"p":8,"x":100,"r":0.1},
{"p":8,"x":50,"g":-0.2},{"p":8,"x":50.5,"g":-0.04},{"p":8,"x":51,"g":0.07},{"p":8,"x":51.5,"g":0.2},{"p":8,"x":52.5,"g":0.38},{"p":8,"x":53.6,"g":0.35},{"p":8,"x":54.7,"g":0.2},{"p":8,"x":55.7,"g":0.1},{"p":8,"x":56.7,"g":0.0},{"p":8,"x":57.6,"g":-0.09},{"p":8,"x":58.4,"g":-0.2},{"p":8,"x":60,"g":-0.3},{"p":8,"x":61.8,"g":-0.2},{"p":8,"x":63.5,"g":-0.12},{"p":8,"x":65.4,"g":-0.02},{"p":8,"x":67.3,"g":0.07},{"p":8,"x":69.3,"g":0.13},{"p":8,"x":71.2,"g":0.16},{"p":8,"x":72.5,"g":0.17},{"p":8,"x":74.5,"g":0.16},{"p":8,"x":76.4,"g":0.1},{"p":8,"x":79,"g":0.04},{"p":8,"x":81.6,"g":0.0},{"p":8,"x":84.2,"g":-0.06},{"p":8,"x":86.8,"g":-0.11},{"p":8,"x":88.7,"g":-0.13},{"p":8,"x":91,"g":-0.14},{"p":8,"x":92.9,"g":-0.13},{"p":8,"x":95.2,"g":-0.06},{"p":8,"x":96.8,"g":0.01},{"p":8,"x":98.4,"g":0.11},{"p":8,"x":99.2,"g":0.2},{"p":8,"x":100,"g":0.28},
{"p":9,"x":50,"b":-0.19},{"p":9,"x":50.4,"b":-0.1},{"p":9,"x":50.7,"b":0.01},{"p":9,"x":51.2,"b":-0.06},{"p":9,"x":51.7,"b":-0.04},{"p":9,"x":52.1,"b":0.01},{"p":9,"x":52.5,"b":-0.12},{"p":9,"x":52.9,"b":-0.06},{"p":9,"x":53.4,"b":0.01},{"p":9,"x":53.9,"b":0.09},{"p":9,"x":54.2,"b":0.09},{"p":9,"x":54.6,"b":0.2},{"p":9,"x":54.9,"b":0.09},{"p":9,"x":55.2,"b":0.2},{"p":9,"x":55.5,"b":-0.04},{"p":9,"x":55.9,"b":0.2},{"p":9,"x":56.2,"b":-0.01},{"p":9,"x":56.5,"b":-0.07},{"p":9,"x":57,"b":0.06},{"p":9,"x":57.5,"b":-0.06},{"p":9,"x":58,"b":-0.07},{"p":9,"x":58.4,"b":0.06},{"p":9,"x":59.1,"b":0.06},{"p":9,"x":59.6,"b":-0.13},{"p":9,"x":60.1,"b":-0.15},{"p":9,"x":60.6,"b":-0.07},{"p":9,"x":61,"b":-0.06},{"p":9,"x":61.5,"b":-0.1},{"p":9,"x":62,"b":-0.07},{"p":9,"x":62.5,"b":-0.15},{"p":9,"x":62.8,"b":0.09},{"p":9,"x":63.3,"b":-0.04},{"p":9,"x":63.8,"b":-0.01},{"p":9,"x":64.3,"b":0.01},{"p":9,"x":64.8,"b":0.15},{"p":9,"x":65.2,"b":0.0},{"p":9,"x":65.7,"b":0.0},{"p":9,"x":66.2,"b":0.07},{"p":9,"x":66.7,"b":0.04},{"p":9,"x":67.2,"b":-0.01},{"p":9,"x":67.7,"b":-0.07},{"p":9,"x":68.2,"b":0.09},{"p":9,"x":68.6,"b":0.04},{"p":9,"x":69.1,"b":0.01},{"p":9,"x":69.6,"b":-0.03},{"p":9,"x":70.1,"b":0.0},{"p":9,"x":70.6,"b":-0.04},{"p":9,"x":71.1,"b":0.01},{"p":9,"x":71.6,"b":0.04},{"p":9,"x":72,"b":0.03},{"p":9,"x":72.5,"b":0.04},{"p":9,"x":73,"b":0.07},{"p":9,"x":73.5,"b":0.01},{"p":9,"x":74,"b":0.06},{"p":9,"x":74.5,"b":0.09},{"p":9,"x":75,"b":0.03},{"p":9,"x":75.4,"b":0.06},{"p":9,"x":75.9,"b":0.07},{"p":9,"x":76.4,"b":0.03},{"p":9,"x":76.9,"b":0.07},{"p":9,"x":77.4,"b":0.01},{"p":9,"x":77.9,"b":0.07},{"p":9,"x":78.3,"b":0.03},{"p":9,"x":78.8,"b":0.06},{"p":9,"x":79.3,"b":0.12},{"p":9,"x":79.8,"b":0.01},{"p":9,"x":80.3,"b":0.03},{"p":9,"x":80.8,"b":0.01},{"p":9,"x":81.3,"b":0.03},{"p":9,"x":81.7,"b":0.0},{"p":9,"x":82.2,"b":0.01},{"p":9,"x":82.7,"b":-0.01},{"p":9,"x":83.2,"b":-0.06},{"p":9,"x":83.7,"b":-0.04},{"p":9,"x":84.2,"b":-0.06},{"p":9,"x":84.7,"b":-0.04},{"p":9,"x":85.1,"b":-0.05},{"p":9,"x":85.6,"b":-0.07},{"p":9,"x":86.1,"b":-0.09},{"p":9,"x":86.6,"b":-0.12},{"p":9,"x":87.1,"b":-0.06},{"p":9,"x":87.6,"b":0.01},{"p":9,"x":87.9,"b":-0.09},{"p":9,"x":88.4,"b":-0.01},{"p":9,"x":88.9,"b":-0.06},{"p":9,"x":89.4,"b":-0.01},{"p":9,"x":89.9,"b":0.01},{"p":9,"x":90.3,"b":-0.03},{"p":9,"x":90.8,"b":0.0},{"p":9,"x":91.3,"b":-0.01},{"p":9,"x":91.8,"b":0.09},{"p":9,"x":92.3,"b":0.01},{"p":9,"x":92.7,"b":0.04},{"p":9,"x":93.2,"b":-0.01},{"p":9,"x":93.7,"b":0.0},{"p":9,"x":94.1,"b":-0.09},{"p":9,"x":94.5,"b":0.0},{"p":9,"x":95,"b":0.04},{"p":9,"x":95.5,"b":0.07},{"p":9,"x":96,"b":0.1},{"p":9,"x":96.5,"b":0.03},{"p":9,"x":97,"b":0.04},{"p":9,"x":97.4,"b":0.04},{"p":9,"x":97.9,"b":0.06},{"p":9,"x":98.4,"b":0.0},{"p":9,"x":98.9,"b":0.07},{"p":9,"x":99.4,"b":0.07},{"p":9,"x":100,"b":0.01},
{"p":9,"x":50,"r":-0.16},{"p":9,"x":50.5,"r":-0.01},{"p":9,"x":51.2,"r":0.09},{"p":9,"x":52.1,"r":0.1},{"p":9,"x":53.4,"r":0.07},{"p":9,"x":55,"r":0.0},{"p":9,"x":56.7,"r":-0.06},{"p":9,"x":58,"r":-0.09},{"p":9,"x":59.3,"r":-0.06},{"p":9,"x":60.9,"r":-0.04},{"p":9,"x":62.8,"r":0.01},{"p":9,"x":64.8,"r":0.04},{"p":9,"x":66.1,"r":0.04},{"p":9,"x":68,"r":0.0},{"p":9,"x":70,"r":-0.04},{"p":9,"x":71.9,"r":-0.01},{"p":9,"x":73.8,"r":0.04},{"p":9,"x":75.8,"r":0.05},{"p":9,"x":77.7,"r":0.05},{"p":9,"x":79.6,"r":0.03},{"p":9,"x":81.6,"r":-0.01},{"p":9,"x":83.5,"r":-0.04},{"p":9,"x":85.5,"r":-0.07},{"p":9,"x":87.1,"r":-0.05},{"p":9,"x":88.7,"r":-0.03},{"p":9,"x":90.6,"r":-0.02},{"p":9,"x":92.6,"r":-0.03},{"p":9,"x":94.5,"r":-0.03},{"p":9,"x":96.5,"r":-0.03},{"p":9,"x":98.4,"r":0.01},{"p":9,"x":100,"r":0.12},
{"p":9,"x":50,"g":-0.18},{"p":9,"x":50.5,"g":0.01},{"p":9,"x":51.2,"g":0.1},{"p":9,"x":52,"g":0.12},{"p":9,"x":53.1,"g":0.12},{"p":9,"x":54.1,"g":0.09},{"p":9,"x":55.7,"g":-0.03},{"p":9,"x":57.3,"g":-0.06},{"p":9,"x":59.6,"g":-0.09},{"p":9,"x":62.8,"g":-0.07},{"p":9,"x":66.1,"g":-0.04},{"p":9,"x":68.6,"g":-0.01},{"p":9,"x":70.6,"g":0.04},{"p":9,"x":72.5,"g":0.09},{"p":9,"x":74.5,"g":0.11},{"p":9,"x":76.4,"g":0.1},{"p":9,"x":79,"g":0.09},{"p":9,"x":81,"g":0.03},{"p":9,"x":83.2,"g":-0.04},{"p":9,"x":85.5,"g":-0.09},{"p":9,"x":87.7,"g":-0.13},{"p":9,"x":90,"g":-0.18},{"p":9,"x":91.9,"g":-0.18},{"p":9,"x":93.9,"g":-0.13},{"p":9,"x":95.8,"g":-0.07},{"p":9,"x":97.8,"g":0.07},{"p":9,"x":99.1,"g":0.2},{"p":9,"x":100,"g":0.26},
{"p":10,"x":50,"b":0.3},{"p":10,"x":50.4,"b":0.2},{"p":10,"x":50.7,"b":0.05},{"p":10,"x":51.2,"b":-0.22},{"p":10,"x":54,"b":-0.22},{"p":10,"x":54.4,"b":0.04},{"p":10,"x":54.7,"b":-0.03},{"p":10,"x":55.2,"b":-0.03},{"p":10,"x":55.5,"b":0.22},{"p":10,"x":59.9,"b":0.22},{"p":10,"x":60.2,"b":-0.01},{"p":10,"x":60.7,"b":0.01},{"p":10,"x":61,"b":-0.15},{"p":10,"x":61.4,"b":-0.06},{"p":10,"x":61.7,"b":0.05},{"p":10,"x":62,"b":-0.22},{"p":10,"x":67,"b":-0.22},{"p":10,"x":67.5,"b":-0.06},{"p":10,"x":68,"b":0.02},{"p":10,"x":68.5,"b":-0.06},{"p":10,"x":69,"b":0.01},{"p":10,"x":69.4,"b":-0.08},{"p":10,"x":69.9,"b":0.04},{"p":10,"x":70.4,"b":0.01},{"p":10,"x":70.9,"b":0.04},{"p":10,"x":71.4,"b":-0.06},{"p":10,"x":71.9,"b":0.08},{"p":10,"x":72.4,"b":0.04},{"p":10,"x":72.8,"b":0.11},{"p":10,"x":73.3,"b":0.04},{"p":10,"x":73.8,"b":0.07},{"p":10,"x":74.3,"b":0.02},{"p":10,"x":74.8,"b":0.2},{"p":10,"x":75.3,"b":0.1},{"p":10,"x":75.8,"b":0.1},{"p":10,"x":76.2,"b":0.17},{"p":10,"x":76.7,"b":0.11},{"p":10,"x":77.2,"b":0.15},{"p":10,"x":77.7,"b":0.08},{"p":10,"x":78.2,"b":0.13},{"p":10,"x":78.6,"b":0.17},{"p":10,"x":79.2,"b":0.2},{"p":10,"x":79.6,"b":0.17},{"p":10,"x":80.1,"b":-0.01},{"p":10,"x":80.6,"b":0.05},{"p":10,"x":81.1,"b":0.04},{"p":10,"x":81.6,"b":0.02},{"p":10,"x":82.1,"b":0.01},{"p":10,"x":82.6,"b":0.02},{"p":10,"x":83,"b":-0.05},{"p":10,"x":83.5,"b":-0.11},{"p":10,"x":84,"b":-0.06},{"p":10,"x":84.5,"b":-0.05},{"p":10,"x":85,"b":-0.09},{"p":10,"x":85.5,"b":-0.13},{"p":10,"x":85.9,"b":-0.08},{"p":10,"x":86.4,"b":-0.06},{"p":10,"x":86.9,"b":-0.15},{"p":10,"x":87.4,"b":-0.11},{"p":10,"x":87.9,"b":0.05},{"p":10,"x":88.4,"b":-0.06},{"p":10,"x":88.9,"b":0.01},{"p":10,"x":89.4,"b":0.02},{"p":10,"x":89.9,"b":0.01},{"p":10,"x":90.3,"b":0.05},{"p":10,"x":90.8,"b":0.02},{"p":10,"x":91.3,"b":0.17},{"p":10,"x":91.8,"b":-0.01},{"p":10,"x":92.3,"b":0.05},{"p":10,"x":92.7,"b":0.02},{"p":10,"x":93.2,"b":0.13},{"p":10,"x":93.7,"b":0.14},{"p":10,"x":94.2,"b":0.11},{"p":10,"x":94.7,"b":-0.15},{"p":10,"x":95.2,"b":0.14},{"p":10,"x":95.7,"b":0.02},{"p":10,"x":96,"b":0.17},{"p":10,"x":96.5,"b":0.07},{"p":10,"x":97,"b":0.02},{"p":10,"x":97.4,"b":0.01},{"p":10,"x":97.9,"b":0.04},{"p":10,"x":98.4,"b":0.02},{"p":10,"x":98.9,"b":-0.09},{"p":10,"x":99.4,"b":-0.11},{"p":10,"x":99.7,"b":0.07},{"p":10,"x":100,"b":0.02},
{"p":10,"x":50,"r":0.01},{"p":10,"x":50.5,"r":0.04},{"p":10,"x":51.2,"r":0.07},{"p":10,"x":52.1,"r":0.07},{"p":10,"x":53.1,"r":0.06},{"p":10,"x":54.7,"r":0.07},{"p":10,"x":56.3,"r":0.06},{"p":10,"x":58,"r":0.01},{"p":10,"x":59.6,"r":-0.08},{"p":10,"x":61.2,"r":-0.14},{"p":10,"x":62.2,"r":-0.15},{"p":10,"x":63.5,"r":-0.11},{"p":10,"x":65.1,"r":-0.01},{"p":10,"x":66.7,"r":0.08},{"p":10,"x":68,"r":0.1},{"p":10,"x":69.3,"r":0.08},{"p":10,"x":70.9,"r":0.06},{"p":10,"x":73.2,"r":0.07},{"p":10,"x":75.8,"r":0.08},{"p":10,"x":77.7,"r":0.07},{"p":10,"x":79.6,"r":0.02},{"p":10,"x":81.6,"r":-0.04},{"p":10,"x":83.5,"r":-0.09},{"p":10,"x":85.1,"r":-0.12},{"p":10,"x":86.8,"r":-0.09},{"p":10,"x":88.4,"r":-0.04},{"p":10,"x":90,"r":0.02},{"p":10,"x":91.9,"r":0.04},{"p":10,"x":93.2,"r":0.08},{"p":10,"x":95.2,"r":0.07},{"p":10,"x":97.1,"r":0.04},{"p":10,"x":99.1,"r":-0.01},{"p":10,"x":100,"r":-0.03},
{"p":10,"x":50,"g":-0.17},{"p":10,"x":50.5,"g":-0.06},{"p":10,"x":51.2,"g":0.04},{"p":10,"x":52.1,"g":0.1},{"p":10,"x":53.4,"g":0.12},{"p":10,"x":54.7,"g":0.13},{"p":10,"x":55.7,"g":0.13},{"p":10,"x":57,"g":0.08},{"p":10,"x":58.3,"g":-0.01},{"p":10,"x":59.6,"g":-0.09},{"p":10,"x":60.9,"g":-0.18},{"p":10,"x":61.4,"g":-0.2},{"p":10,"x":62.5,"g":-0.25},{"p":10,"x":63.8,"g":-0.2},{"p":10,"x":65.4,"g":-0.09},{"p":10,"x":66.7,"g":0.01},{"p":10,"x":68.3,"g":0.08},{"p":10,"x":69.9,"g":0.13},{"p":10,"x":71.9,"g":0.14},{"p":10,"x":73.8,"g":0.14},{"p":10,"x":75.8,"g":0.13},{"p":10,"x":77.7,"g":0.08},{"p":10,"x":79.6,"g":0.02},{"p":10,"x":82.2,"g":-0.05},{"p":10,"x":84.8,"g":-0.09},{"p":10,"x":87.4,"g":-0.12},{"p":10,"x":90,"g":-0.12},{"p":10,"x":91.9,"g":-0.12},{"p":10,"x":93.2,"g":-0.04},{"p":10,"x":95.2,"g":-0.01},{"p":10,"x":97.1,"g":0.04},{"p":10,"x":99.1,"g":0.1},{"p":10,"x":100,"g":0.14},
{"p":11,"x":50,"b":0.4},{"p":11,"x":50.5,"b":0.2},{"p":11,"x":51.2,"b":-0.3},{"p":11,"x":56,"b":-0.3},{"p":11,"x":56.5,"b":0.01},{"p":11,"x":57,"b":0.3},{"p":11,"x":65.3,"b":0.3},{"p":11,"x":65.4,"b":0.16},{"p":11,"x":65.7,"b":0.18},{"p":11,"x":66,"b":0.25},{"p":11,"x":66.3,"b":0.04},{"p":11,"x":66.6,"b":-0.04},{"p":11,"x":67,"b":-0.01},{"p":11,"x":67.3,"b":-0.16},{"p":11,"x":67.6,"b":0.0},{"p":11,"x":67.9,"b":-0.3},{"p":11,"x":79.2,"b":-0.3},{"p":11,"x":80.1,"b":0.3},{"p":11,"x":91.8,"b":0.3},{"p":11,"x":92.2,"b":-0.13},{"p":11,"x":92.6,"b":-0.16},{"p":11,"x":93.2,"b":-0.3},{"p":11,"x":100,"b":-0.3},
{"p":11,"x":50,"r":0.4},{"p":11,"x":50.5,"r":0.2},{"p":11,"x":51.8,"r":-0.2},{"p":11,"x":53.5,"r":-0.55},{"p":11,"x":55,"r":-0.45},{"p":11,"x":56.2,"r":-0.2},{"p":11,"x":58.1,"r":0.2},{"p":11,"x":60,"r":0.5},{"p":11,"x":63,"r":0.55},{"p":11,"x":65.1,"r":0.2},{"p":11,"x":67.7,"r":0.0},{"p":11,"x":70,"r":-0.2},{"p":11,"x":73,"r":-0.45},{"p":11,"x":75.5,"r":-0.35},{"p":11,"x":77.1,"r":-0.2},{"p":11,"x":79,"r":-0.12},{"p":11,"x":80.6,"r":-0.03},{"p":11,"x":82.2,"r":0.03},{"p":11,"x":84.2,"r":0.07},{"p":11,"x":86.1,"r":0.13},{"p":11,"x":87.7,"r":0.2},{"p":11,"x":90,"r":0.3},{"p":11,"x":93,"r":0.32},{"p":11,"x":95.5,"r":0.2},{"p":11,"x":96.8,"r":0.04},{"p":11,"x":98.1,"r":-0.2},{"p":11,"x":100,"r":-0.5},
{"p":11,"x":50,"g":0.4},{"p":11,"x":50.5,"g":0.2},{"p":11,"x":51.9,"g":-0.2},{"p":11,"x":53.5,"g":-0.5},{"p":11,"x":54.8,"g":-0.4},{"p":11,"x":55.9,"g":-0.2},{"p":11,"x":58.3,"g":0.2},{"p":11,"x":60,"g":0.4},{"p":11,"x":62,"g":0.35},{"p":11,"x":63.5,"g":0.2},{"p":11,"x":66.1,"g":0.06},{"p":11,"x":68.5,"g":-0.08},{"p":11,"x":71.2,"g":-0.2},{"p":11,"x":73.5,"g":-0.35},{"p":11,"x":75.5,"g":-0.3},{"p":11,"x":76.8,"g":-0.2},{"p":11,"x":79,"g":-0.07},{"p":11,"x":80.6,"g":0.0},{"p":11,"x":82.2,"g":0.05},{"p":11,"x":84.8,"g":0.1},{"p":11,"x":87.1,"g":0.13},{"p":11,"x":88.7,"g":0.13},{"p":11,"x":90.3,"g":0.15},{"p":11,"x":91.9,"g":0.17},{"p":11,"x":93,"g":0.21},{"p":11,"x":94.5,"g":0.24},{"p":11,"x":95.5,"g":0.2},{"p":11,"x":97.1,"g":0.01},{"p":11,"x":98.3,"g":-0.2},{"p":11,"x":100,"g":-0.45},
{"p":12,"x":50,"b":-0.3},{"p":12,"x":55.3,"b":-0.3},{"p":12,"x":55.5,"b":-0.16},{"p":12,"x":55.7,"b":-0.3},{"p":12,"x":56.4,"b":-0.3},{"p":12,"x":56.8,"b":0.3},{"p":12,"x":64.4,"b":0.3},{"p":12,"x":65.6,"b":0.16},{"p":12,"x":65.9,"b":0.14},{"p":12,"x":66.1,"b":0.22},{"p":12,"x":66.4,"b":-0.3},{"p":12,"x":66.9,"b":-0.1},{"p":12,"x":67.3,"b":0.17},{"p":12,"x":67.7,"b":0.02},{"p":12,"x":68,"b":-0.3},{"p":12,"x":79.8,"b":-0.3},{"p":12,"x":80.3,"b":-0.07},{"p":12,"x":80.9,"b":0.05},{"p":12,"x":81.4,"b":0.13},{"p":12,"x":81.7,"b":0.2},{"p":12,"x":82,"b":0.3},{"p":12,"x":93.6,"b":0.3},{"p":12,"x":94,"b":-0.3},{"p":12,"x":100,"b":-0.3},
{"p":12,"x":50,"r":0.3},{"p":12,"x":50.5,"r":0.2},{"p":12,"x":51.2,"r":-0.2},{"p":12,"x":53,"r":-0.6},{"p":12,"x":55,"r":-0.5},{"p":12,"x":56.3,"r":-0.2},{"p":12,"x":57.3,"r":0.2},{"p":12,"x":59,"r":0.6},{"p":12,"x":62,"r":0.8},{"p":12,"x":64.5,"r":0.6},{"p":12,"x":66.1,"r":0.2},{"p":12,"x":69,"r":-0.2},{"p":12,"x":72,"r":-0.6},{"p":12,"x":76,"r":-0.7},{"p":12,"x":79,"r":-0.5},{"p":12,"x":80.6,"r":-0.2},{"p":12,"x":83.7,"r":0.2},{"p":12,"x":87,"r":0.5},{"p":12,"x":90,"r":0.6},{"p":12,"x":93,"r":0.45},{"p":12,"x":95.2,"r":0.2},{"p":12,"x":97,"r":-0.2},{"p":12,"x":98.5,"r":-0.5},{"p":12,"x":100,"r":-0.8},
{"p":12,"x":50,"g":0.3},{"p":12,"x":50.4,"g":0.2},{"p":12,"x":51.1,"g":-0.2},{"p":12,"x":53,"g":-0.55},{"p":12,"x":55,"g":-0.45},{"p":12,"x":56.2,"g":-0.2},{"p":12,"x":57.2,"g":0.2},{"p":12,"x":59,"g":0.55},{"p":12,"x":62,"g":0.7},{"p":12,"x":64.3,"g":0.5},{"p":12,"x":65.9,"g":0.2},{"p":12,"x":68.6,"g":-0.2},{"p":12,"x":72,"g":-0.55},{"p":12,"x":76,"g":-0.65},{"p":12,"x":78.8,"g":-0.45},{"p":12,"x":80.3,"g":-0.2},{"p":12,"x":83.2,"g":0.2},{"p":12,"x":87,"g":0.5},{"p":12,"x":90,"g":0.55},{"p":12,"x":93,"g":0.42},{"p":12,"x":95,"g":0.2},{"p":12,"x":97,"g":-0.2},{"p":12,"x":98.5,"g":-0.45},{"p":12,"x":100,"g":-0.7},
{"p":13,"x":50,"b":0.35},{"p":13,"x":50.3,"b":0.2},{"p":13,"x":51.1,"b":-0.25},{"p":13,"x":54.1,"b":-0.25},{"p":13,"x":54.8,"b":-0.11},{"p":13,"x":55.4,"b":-0.08},{"p":13,"x":56,"b":-0.07},{"p":13,"x":56.4,"b":-0.01},{"p":13,"x":56.8,"b":0.15},{"p":13,"x":57.4,"b":0.18},{"p":13,"x":58,"b":0.21},{"p":13,"x":58.6,"b":0.22},{"p":13,"x":59.3,"b":0.18},{"p":13,"x":59.8,"b":0.15},{"p":13,"x":60.2,"b":0.17},{"p":13,"x":60.8,"b":0.14},{"p":13,"x":61.4,"b":0.14},{"p":13,"x":61.8,"b":0.2},{"p":13,"x":62.2,"b":0.11},{"p":13,"x":62.6,"b":0.12},{"p":13,"x":63,"b":0.18},{"p":13,"x":63.4,"b":0.11},{"p":13,"x":64.1,"b":0.12},{"p":13,"x":64.5,"b":0.09},{"p":13,"x":65.1,"b":0.14},{"p":13,"x":65.5,"b":0.08},{"p":13,"x":65.9,"b":0.11},{"p":13,"x":66.3,"b":0.04},{"p":13,"x":66.7,"b":-0.01},{"p":13,"x":67.1,"b":0.01},{"p":13,"x":67.7,"b":-0.01},{"p":13,"x":68.3,"b":-0.05},{"p":13,"x":68.7,"b":-0.07},{"p":13,"x":69.3,"b":-0.18},{"p":13,"x":69.9,"b":-0.15},{"p":13,"x":70.5,"b":-0.21},{"p":13,"x":71,"b":-0.25},{"p":13,"x":73,"b":-0.25},{"p":13,"x":73.5,"b":-0.21},{"p":13,"x":74.4,"b":-0.17},{"p":13,"x":75.2,"b":-0.14},{"p":13,"x":76,"b":-0.11},{"p":13,"x":76.6,"b":-0.08},{"p":13,"x":77.2,"b":-0.02},{"p":13,"x":77.8,"b":-0.01},{"p":13,"x":78.4,"b":-0.04},{"p":13,"x":79,"b":-0.01},{"p":13,"x":79.6,"b":0.04},{"p":13,"x":80.2,"b":0.05},{"p":13,"x":80.8,"b":0.07},{"p":13,"x":81.4,"b":0.08},{"p":13,"x":82,"b":0.07},{"p":13,"x":82.6,"b":0.09},{"p":13,"x":83.2,"b":0.11},{"p":13,"x":83.8,"b":0.09},{"p":13,"x":84.4,"b":0.11},{"p":13,"x":85.1,"b":0.14},{"p":13,"x":85.7,"b":0.15},{"p":13,"x":86.3,"b":0.14},{"p":13,"x":86.9,"b":0.16},{"p":13,"x":87.5,"b":0.2},{"p":13,"x":88,"b":0.23},{"p":13,"x":90,"b":0.23},{"p":13,"x":90.5,"b":0.17},{"p":13,"x":91.1,"b":0.15},{"p":13,"x":91.7,"b":0.17},{"p":13,"x":92.3,"b":0.05},{"p":13,"x":92.7,"b":0.09},{"p":13,"x":93.1,"b":0.02},{"p":13,"x":93.7,"b":-0.02},{"p":13,"x":94.3,"b":-0.05},{"p":13,"x":94.9,"b":-0.07},{"p":13,"x":95.6,"b":-0.11},{"p":13,"x":96.2,"b":-0.08},{"p":13,"x":96.6,"b":-0.15},{"p":13,"x":97,"b":-0.22},{"p":13,"x":99.7,"b":-0.25},{"p":13,"x":99.85,"b":-0.2},{"p":13,"x":100,"b":0.02},
{"p":13,"x":50,"r":0.15},{"p":13,"x":50.5,"r":0.05},{"p":13,"x":51.3,"r":-0.04},{"p":13,"x":52.5,"r":-0.09},{"p":13,"x":53.8,"r":-0.11},{"p":13,"x":55,"r":-0.1},{"p":13,"x":56.6,"r":-0.04},{"p":13,"x":58.2,"r":0.03},{"p":13,"x":59.8,"r":0.08},{"p":13,"x":61.4,"r":0.11},{"p":13,"x":63,"r":0.12},{"p":13,"x":64.7,"r":0.13},{"p":13,"x":65.9,"r":0.11},{"p":13,"x":67.1,"r":0.05},{"p":13,"x":68.3,"r":-0.01},{"p":13,"x":69.5,"r":-0.07},{"p":13,"x":71.1,"r":-0.1},{"p":13,"x":72.7,"r":-0.12},{"p":13,"x":75.2,"r":-0.11},{"p":13,"x":77.6,"r":-0.1},{"p":13,"x":80,"r":-0.07},{"p":13,"x":82.4,"r":-0.05},{"p":13,"x":84.5,"r":-0.02},{"p":13,"x":86.1,"r":0.04},{"p":13,"x":87.7,"r":0.12},{"p":13,"x":89.3,"r":0.18},{"p":13,"x":90.9,"r":0.2},{"p":13,"x":92.5,"r":0.17},{"p":13,"x":94.1,"r":0.11},{"p":13,"x":95.7,"r":0.02},{"p":13,"x":97.3,"r":-0.08},{"p":13,"x":98.9,"r":-0.18},{"p":13,"x":100,"r":-0.24},
{"p":13,"x":50,"g":0.11},{"p":13,"x":50.7,"g":0.02},{"p":13,"x":51.7,"g":-0.04},{"p":13,"x":52.9,"g":-0.07},{"p":13,"x":54.2,"g":-0.06},{"p":13,"x":55.8,"g":-0.02},{"p":13,"x":57.4,"g":0.02},{"p":13,"x":59,"g":0.05},{"p":13,"x":60.2,"g":0.06},{"p":13,"x":62.2,"g":0.04},{"p":13,"x":64.3,"g":0.02},{"p":13,"x":66.3,"g":0.01},{"p":13,"x":68.7,"g":-0.01},{"p":13,"x":71.9,"g":-0.04},{"p":13,"x":75.2,"g":-0.04},{"p":13,"x":78.4,"g":-0.02},{"p":13,"x":81.6,"g":0.01},{"p":13,"x":84.8,"g":0.04},{"p":13,"x":87.2,"g":0.05},{"p":13,"x":89.7,"g":0.05},{"p":13,"x":92.5,"g":0.04},{"p":13,"x":95.4,"g":0.01},{"p":13,"x":98.2,"g":-0.04},{"p":13,"x":100,"g":-0.07},
{"p":1,"t":"GHA = 23-1hr","kb":"0.58K","kr":"0.42K","kg":"0.37K"},
{"p":2,"t":"GHA = 1-3hr","kb":"0.28K","kr":"0.25K","kg":"0.19K"},
{"p":3,"t":"GHA = 3-5hr","kb":"0.22K","kr":"0.11K","kg":"0.16K"},
{"p":4,"t":"GHA = 5-7hr","kb":"0.12K","kr":"0.08K","kg":"0.11K"},
{"p":5,"t":"GHA = 7-9hr","kb":"0.09K","kr":"0.06K","kg":"0.09K"},
{"p":6,"t":"GHA = 9-11hr","kb":"0.06K","kr":"0.07K","kg":"0.09K"},
{"p":7,"t":"GHA = 11-13hr","kb":"0.11K","kr":"0.04K","kg":"0.07K"},
{"p":8,"t":"GHA = 13-15hr","kb":"0.1K","kr":"0.11K","kg":"0.14K"},
{"p":9,"t":"GHA = 15-17hr","kb":"0.07K","kr":"0.04K","kg":"0.09K"},
{"p":10,"t":"GHA = 17-19hr","kb":"0.22K","kr":"0.08K","kg":"0.11K"},
{"p":11,"t":"GHA = 19-21hr","kb":"0.73K","kr":"0.25K","kg":"0.2K"},
{"p":12,"t":"GHA = 21-23hr","kb":"0.64K","kr":"0.56K","kg":"0.5K"},
{"p":13,"t":"Avg","kb":"0.14K","kr":"0.1K","kg":"0.03K"},
{"p":1,"kx":54.8,"kx2":88.1,"ky":0.2435,"ky2":0.2435},
{"p":1,"kx":54.8,"kx2":54.8,"ky":0.2435,"ky2":0.287},
{"p":1,"kx":88.1,"kx2":88.1,"ky":0.2435,"ky2":0.287}
]},
"facet": {"row": {"field": "p", "type": "ordinal", "title": null, "header": {"labels": false, "title": null}}},
"spacing": {"row": 9},
"bounds": "flush",
"spec": {
"width": 577,
"height": 46,
"encoding": {
"x": {"type": "quantitative", "scale": {"domain": [50, 100], "nice": false, "zero": false}, "axis": {"values": [50, 60, 70, 80, 90, 100], "title": "Freq(MHz)", "titleFont": "DejaVu Sans", "titleFontSize": 11, "titleFontWeight": "normal", "titleColor": "#222", "titlePadding": 5, "labelFont": "DejaVu Sans", "labelFontSize": 12, "labelColor": "black", "labelFlush": false, "labelPadding": 5, "ticks": false, "domain": false, "grid": true, "gridDash": [1, 3], "gridColor": "#666", "gridWidth": 0.8}},
"y": {"type": "quantitative", "scale": {"domain": [-0.2, 0.2], "nice": false, "zero": false}, "axis": {"values": [-0.1, 0, 0.1], "format": ".1f", "title": null, "labelFont": "DejaVu Sans", "labelFontSize": 10.5, "labelColor": "black", "labelPadding": 5, "ticks": false, "domain": false, "grid": true, "gridDash": [1, 3], "gridColor": "#666", "gridWidth": 0.8}}
},
"layer": [
{"transform": [{"filter": "isValid(datum.b)"}], "mark": {"type": "line", "color": "#0000ff", "strokeWidth": 1.1, "clip": true}, "encoding": {"x": {"field": "x", "type": "quantitative"}, "y": {"field": "b", "type": "quantitative"}}},
{"transform": [{"filter": "isValid(datum.r)"}], "mark": {"type": "line", "color": "#ff0000", "strokeWidth": 1.3, "clip": true}, "encoding": {"x": {"field": "x", "type": "quantitative"}, "y": {"field": "r", "type": "quantitative"}}},
{"transform": [{"filter": "isValid(datum.g)"}], "mark": {"type": "line", "color": "#008000", "strokeWidth": 1.3, "clip": true}, "encoding": {"x": {"field": "x", "type": "quantitative"}, "y": {"field": "g", "type": "quantitative"}}},
{"transform": [{"filter": "isValid(datum.kx)"}], "mark": {"type": "rule", "color": "#222", "strokeWidth": 1.2}, "encoding": {"x": {"field": "kx", "type": "quantitative"}, "x2": {"field": "kx2"}, "y": {"field": "ky", "type": "quantitative"}, "y2": {"field": "ky2"}}},
{"transform": [{"filter": "isValid(datum.t)"}], "mark": {"type": "text", "align": "left", "baseline": "middle", "dx": 11, "font": "DejaVu Sans", "fontSize": 10.5, "color": "black"}, "encoding": {"x": {"datum": 100}, "y": {"datum": 0.137}, "text": {"field": "t"}}},
{"transform": [{"filter": "isValid(datum.t)"}], "mark": {"type": "text", "align": "left", "baseline": "middle", "dx": 11, "font": "DejaVu Sans", "fontSize": 10.5, "color": "#0000ff"}, "encoding": {"x": {"datum": 100}, "y": {"datum": 0.042}, "text": {"field": "kb"}}},
{"transform": [{"filter": "isValid(datum.t)"}], "mark": {"type": "text", "align": "left", "baseline": "middle", "dx": 11, "font": "DejaVu Sans", "fontSize": 10.5, "color": "#ff0000"}, "encoding": {"x": {"datum": 100}, "y": {"datum": -0.053}, "text": {"field": "kr"}}},
{"transform": [{"filter": "isValid(datum.t)"}], "mark": {"type": "text", "align": "left", "baseline": "middle", "dx": 11, "font": "DejaVu Sans", "fontSize": 10.5, "color": "#008000"}, "encoding": {"x": {"datum": 100}, "y": {"datum": -0.148}, "text": {"field": "kg"}}}
]
}
}
